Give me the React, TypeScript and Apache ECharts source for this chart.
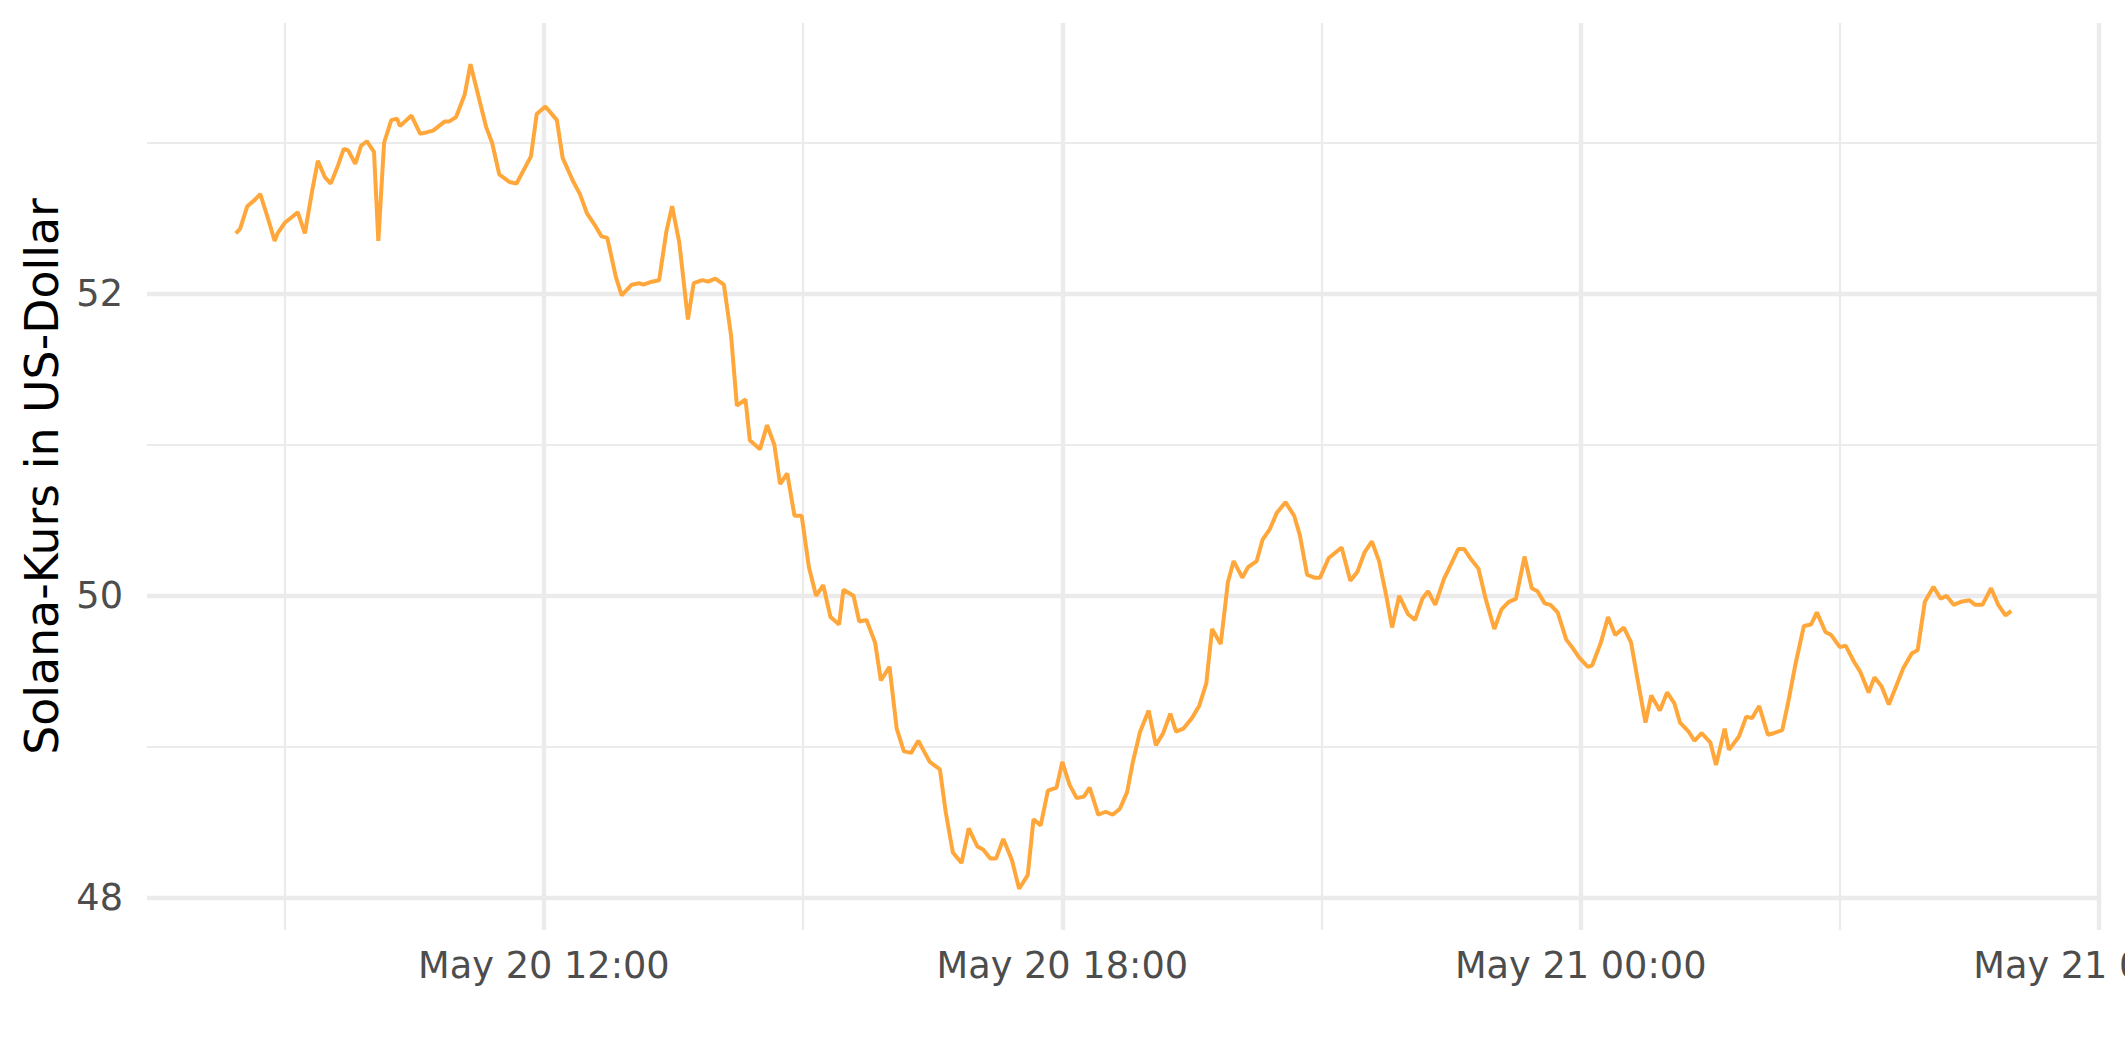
import React, { useEffect, useRef } from "react";
import * as echarts from "echarts";

// Solana price (USD)
const times: string[] = [
  "05-20 08:26", "05-20 08:29", "05-20 08:34", "05-20 08:39", "05-20 08:43", "05-20 08:48", "05-20 08:53", "05-20 08:55",
  "05-20 09:00", "05-20 09:04", "05-20 09:09", "05-20 09:14", "05-20 09:19", "05-20 09:23", "05-20 09:28", "05-20 09:32",
  "05-20 09:37", "05-20 09:41", "05-20 09:44", "05-20 09:49", "05-20 09:53", "05-20 09:57", "05-20 10:02", "05-20 10:05",
  "05-20 10:09", "05-20 10:14", "05-20 10:18", "05-20 10:20", "05-20 10:28", "05-20 10:34", "05-20 10:39", "05-20 10:43",
  "05-20 10:51", "05-20 10:54", "05-20 10:59", "05-20 11:05", "05-20 11:09", "05-20 11:20", "05-20 11:24", "05-20 11:29",
  "05-20 11:36", "05-20 11:41", "05-20 11:46", "05-20 11:51", "05-20 11:55", "05-20 12:01", "05-20 12:09", "05-20 12:13",
  "05-20 12:20", "05-20 12:25", "05-20 12:30", "05-20 12:35", "05-20 12:40", "05-20 12:44", "05-20 12:50", "05-20 12:54",
  "05-20 13:01", "05-20 13:06", "05-20 13:09", "05-20 13:15", "05-20 13:20", "05-20 13:25", "05-20 13:29", "05-20 13:34",
  "05-20 13:40", "05-20 13:44", "05-20 13:50", "05-20 13:54", "05-20 13:59", "05-20 14:05", "05-20 14:10", "05-20 14:14",
  "05-20 14:20", "05-20 14:23", "05-20 14:30", "05-20 14:35", "05-20 14:40", "05-20 14:44", "05-20 14:49", "05-20 14:54",
  "05-20 14:59", "05-20 15:04", "05-20 15:09", "05-20 15:14", "05-20 15:19", "05-20 15:25", "05-20 15:28", "05-20 15:35",
  "05-20 15:39", "05-20 15:44", "05-20 15:50", "05-20 15:54", "05-20 16:00", "05-20 16:05", "05-20 16:10", "05-20 16:15",
  "05-20 16:20", "05-20 16:24", "05-20 16:28", "05-20 16:35", "05-20 16:39", "05-20 16:44", "05-20 16:50", "05-20 16:55",
  "05-20 17:01", "05-20 17:05", "05-20 17:10", "05-20 17:14", "05-20 17:19", "05-20 17:25", "05-20 17:30", "05-20 17:36",
  "05-20 17:40", "05-20 17:45", "05-20 17:50", "05-20 17:56", "05-20 18:00", "05-20 18:05", "05-20 18:10", "05-20 18:15",
  "05-20 18:19", "05-20 18:25", "05-20 18:30", "05-20 18:35", "05-20 18:40", "05-20 18:45", "05-20 18:49", "05-20 18:54",
  "05-20 19:00", "05-20 19:05", "05-20 19:10", "05-20 19:15", "05-20 19:19", "05-20 19:24", "05-20 19:30", "05-20 19:35",
  "05-20 19:40", "05-20 19:44", "05-20 19:50", "05-20 19:55", "05-20 19:59", "05-20 20:05", "05-20 20:09", "05-20 20:15",
  "05-20 20:19", "05-20 20:24", "05-20 20:29", "05-20 20:35", "05-20 20:41", "05-20 20:45", "05-20 20:50", "05-20 20:55",
  "05-20 20:59", "05-20 21:05", "05-20 21:14", "05-20 21:20", "05-20 21:25", "05-20 21:30", "05-20 21:35", "05-20 21:40",
  "05-20 21:45", "05-20 21:49", "05-20 21:54", "05-20 22:00", "05-20 22:05", "05-20 22:10", "05-20 22:14", "05-20 22:19",
  "05-20 22:25", "05-20 22:30", "05-20 22:35", "05-20 22:39", "05-20 22:44", "05-20 22:49", "05-20 22:54", "05-20 23:00",
  "05-20 23:05", "05-20 23:10", "05-20 23:15", "05-20 23:21", "05-20 23:26", "05-20 23:30", "05-20 23:35", "05-20 23:39",
  "05-20 23:44", "05-20 23:50", "05-20 23:54", "05-20 23:59", "05-21 00:05", "05-21 00:08", "05-21 00:14", "05-21 00:19",
  "05-21 00:24", "05-21 00:30", "05-21 00:35", "05-21 00:40", "05-21 00:45", "05-21 00:49", "05-21 00:55", "05-21 01:00",
  "05-21 01:05", "05-21 01:09", "05-21 01:15", "05-21 01:19", "05-21 01:24", "05-21 01:30", "05-21 01:34", "05-21 01:40",
  "05-21 01:43", "05-21 01:50", "05-21 01:55", "05-21 01:59", "05-21 02:04", "05-21 02:10", "05-21 02:14", "05-21 02:20",
  "05-21 02:24", "05-21 02:29", "05-21 02:35", "05-21 02:40", "05-21 02:44", "05-21 02:50", "05-21 02:54", "05-21 03:00",
  "05-21 03:04", "05-21 03:10", "05-21 03:14", "05-21 03:20", "05-21 03:24", "05-21 03:29", "05-21 03:34", "05-21 03:39",
  "05-21 03:44", "05-21 03:50", "05-21 03:54", "05-21 03:59", "05-21 04:05", "05-21 04:10", "05-21 04:14", "05-21 04:19",
  "05-21 04:24", "05-21 04:30", "05-21 04:34", "05-21 04:39", "05-21 04:45", "05-21 04:50", "05-21 04:55", "05-21 04:59",
];

const prices: number[] = [
  52.40, 52.43, 52.58, 52.62, 52.66, 52.51, 52.35, 52.40,
  52.47, 52.50, 52.54, 52.40, 52.68, 52.88, 52.77, 52.73,
  52.85, 52.96, 52.95, 52.86, 52.98, 53.01, 52.94, 52.35,
  53.00, 53.15, 53.16, 53.11, 53.18, 53.06, 53.07, 53.08,
  53.14, 53.14, 53.17, 53.32, 53.52, 53.10, 53.00, 52.79,
  52.74, 52.73, 52.82, 52.91, 53.19, 53.24, 53.15, 52.90,
  52.75, 52.66, 52.53, 52.46, 52.38, 52.37, 52.11, 51.99,
  52.06, 52.07, 52.06, 52.08, 52.09, 52.41, 52.58, 52.34,
  51.83, 52.07, 52.09, 52.08, 52.10, 52.06, 51.72, 51.26,
  51.30, 51.03, 50.97, 51.13, 51.00, 50.74, 50.81, 50.53,
  50.53, 50.19, 50.00, 50.07, 49.86, 49.81, 50.04, 50.00,
  49.83, 49.84, 49.69, 49.44, 49.53, 49.12, 48.97, 48.96,
  49.04, 48.97, 48.90, 48.85, 48.57, 48.30, 48.23, 48.46,
  48.34, 48.32, 48.26, 48.26, 48.39, 48.25, 48.06, 48.15,
  48.52, 48.48, 48.71, 48.73, 48.90, 48.75, 48.66, 48.67,
  48.73, 48.55, 48.57, 48.55, 48.59, 48.70, 48.90, 49.10,
  49.24, 49.01, 49.09, 49.22, 49.10, 49.12, 49.19, 49.27,
  49.42, 49.78, 49.68, 50.09, 50.23, 50.12, 50.19, 50.23,
  50.37, 50.44, 50.55, 50.62, 50.53, 50.40, 50.14, 50.12,
  50.12, 50.25, 50.32, 50.10, 50.16, 50.29, 50.36, 50.23,
  50.00, 49.79, 50.00, 49.88, 49.84, 49.98, 50.03, 49.94,
  50.11, 50.21, 50.31, 50.31, 50.24, 50.18, 49.98, 49.78,
  49.91, 49.96, 49.98, 50.26, 50.05, 50.03, 49.95, 49.94,
  49.89, 49.71, 49.66, 49.59, 49.53, 49.54, 49.69, 49.86,
  49.74, 49.79, 49.69, 49.42, 49.16, 49.34, 49.24, 49.36,
  49.29, 49.16, 49.10, 49.04, 49.09, 49.03, 48.88, 49.12,
  48.98, 49.07, 49.20, 49.19, 49.27, 49.08, 49.09, 49.11,
  49.29, 49.54, 49.80, 49.81, 49.89, 49.76, 49.74, 49.66,
  49.67, 49.56, 49.50, 49.36, 49.46, 49.40, 49.28, 49.40,
  49.52, 49.62, 49.64, 49.96, 50.06, 49.98, 50.00, 49.94,
  49.96, 49.97, 49.94, 49.94, 50.05, 49.94, 49.87, 49.90,
];

const year = 2022;
const majorXTicks: string[] = ["05-20 12:00", "05-20 18:00", "05-21 00:00", "05-21 06:00"];
const minorXTicks: string[] = ["05-20 09:00", "05-20 15:00", "05-20 21:00", "05-21 03:00"];
const majorYTicks: number[] = [48, 50, 52];
const minorYTicks: number[] = [49, 51, 53];
const yTitle = "Solana-Kurs in US-Dollar";
const monthNames = ["Jan", "Feb", "Mar", "Apr", "May", "Jun", "Jul", "Aug", "Sep", "Oct", "Nov", "Dec"];

function parseTime(s: string): number {
  const [md, hm] = s.split(" ");
  const [m, d] = md.split("-").map(Number);
  const [h, mi] = hm.split(":").map(Number);
  return Date.UTC(year, m - 1, d, h, mi);
}

function fmtTime(v: number): string {
  const dt = new Date(v);
  const hh = String(dt.getUTCHours()).padStart(2, "0");
  const mm = String(dt.getUTCMinutes()).padStart(2, "0");
  return `${monthNames[dt.getUTCMonth()]} ${dt.getUTCDate()} ${hh}:${mm}`;
}

const FONT = "DejaVu Sans";

export default function App() {
  const ref = useRef<HTMLDivElement>(null);

  useEffect(() => {
    if (!ref.current) return;
    const chart = echarts.init(ref.current, undefined, { renderer: "svg" });

    const ts = times.map(parseTime);
    const data = ts.map((t, i) => [t, prices[i]]);
    const tMin = Math.min(...ts);
    const tMax = Math.max(...ts);
    const tPad = (tMax - tMin) * 0.05;
    const pMin = Math.min(...prices);
    const pMax = Math.max(...prices);
    const pPad = (pMax - pMin) * 0.05;
    const xMin = tMin - tPad;
    const xMax = tMax + tPad;
    const yMin = pMin - pPad;
    const yMax = pMax + pPad;

    const majX = majorXTicks.map(parseTime);
    const minX = minorXTicks.map(parseTime);

    const gridTop = 23;
    const gridBottom = 132;
    const panelMid = gridTop + (1062 - gridTop - gridBottom) / 2;

    chart.setOption({
      animation: false,
      backgroundColor: "#ffffff",
      grid: {
        left: 147,
        right: 25,
        top: gridTop,
        bottom: gridBottom,
        containLabel: false,
        outerBoundsMode: "none",
      },
      xAxis: [
        {
          type: "value",
          min: xMin,
          max: xMax,
          axisLine: { show: false },
          axisTick: { show: false, customValues: majX },
          axisLabel: {
            customValues: majX,
            formatter: (v: number) => fmtTime(v),
            fontFamily: FONT,
            fontSize: 36.7,
            color: "#4D4D4D",
            margin: 17,
          },
          splitLine: { show: true, lineStyle: { color: "#EBEBEB", width: 4.4 } },
        },
        {
          type: "value",
          min: xMin,
          max: xMax,
          axisLine: { show: false },
          axisTick: { show: false, customValues: minX },
          axisLabel: { show: false },
          splitLine: { show: true, lineStyle: { color: "#EBEBEB", width: 2.2 } },
        },
      ],
      yAxis: [
        {
          type: "value",
          min: yMin,
          max: yMax,
          axisLine: { show: false },
          axisTick: { show: false, customValues: majorYTicks },
          axisLabel: {
            customValues: majorYTicks,
            fontFamily: FONT,
            fontSize: 36.7,
            color: "#4D4D4D",
            margin: 24,
          },
          splitLine: { show: true, lineStyle: { color: "#EBEBEB", width: 4.4 } },
        },
        {
          type: "value",
          min: yMin,
          max: yMax,
          position: "left",
          axisLine: { show: false },
          axisTick: { show: false, customValues: minorYTicks },
          axisLabel: { show: false },
          splitLine: { show: true, lineStyle: { color: "#EBEBEB", width: 2.2 } },
        },
      ],
      series: [
        {
          type: "line",
          xAxisIndex: 0,
          yAxisIndex: 0,
          data,
          showSymbol: false,
          symbol: "none",
          smooth: false,
          lineStyle: { color: "#FFA73A", width: 4.0 },
          z: 5,
        },
      ],
      graphic: [
        {
          type: "text",
          x: 42,
          y: panelMid,
          rotation: Math.PI / 2,
          style: {
            text: yTitle,
            fontFamily: FONT,
            fontSize: 45.8,
            fill: "#000000",
            align: "center",
            verticalAlign: "middle",
            textAlign: "center",
            textVerticalAlign: "middle",
          },
        },
      ],
    });

    return () => {
      chart.dispose();
    };
  }, []);

  return (
    <div
      ref={ref}
      style={{ position: "fixed", left: 0, top: 0, width: "2125px", height: "1062px", background: "#fff" }}
    />
  );
}
